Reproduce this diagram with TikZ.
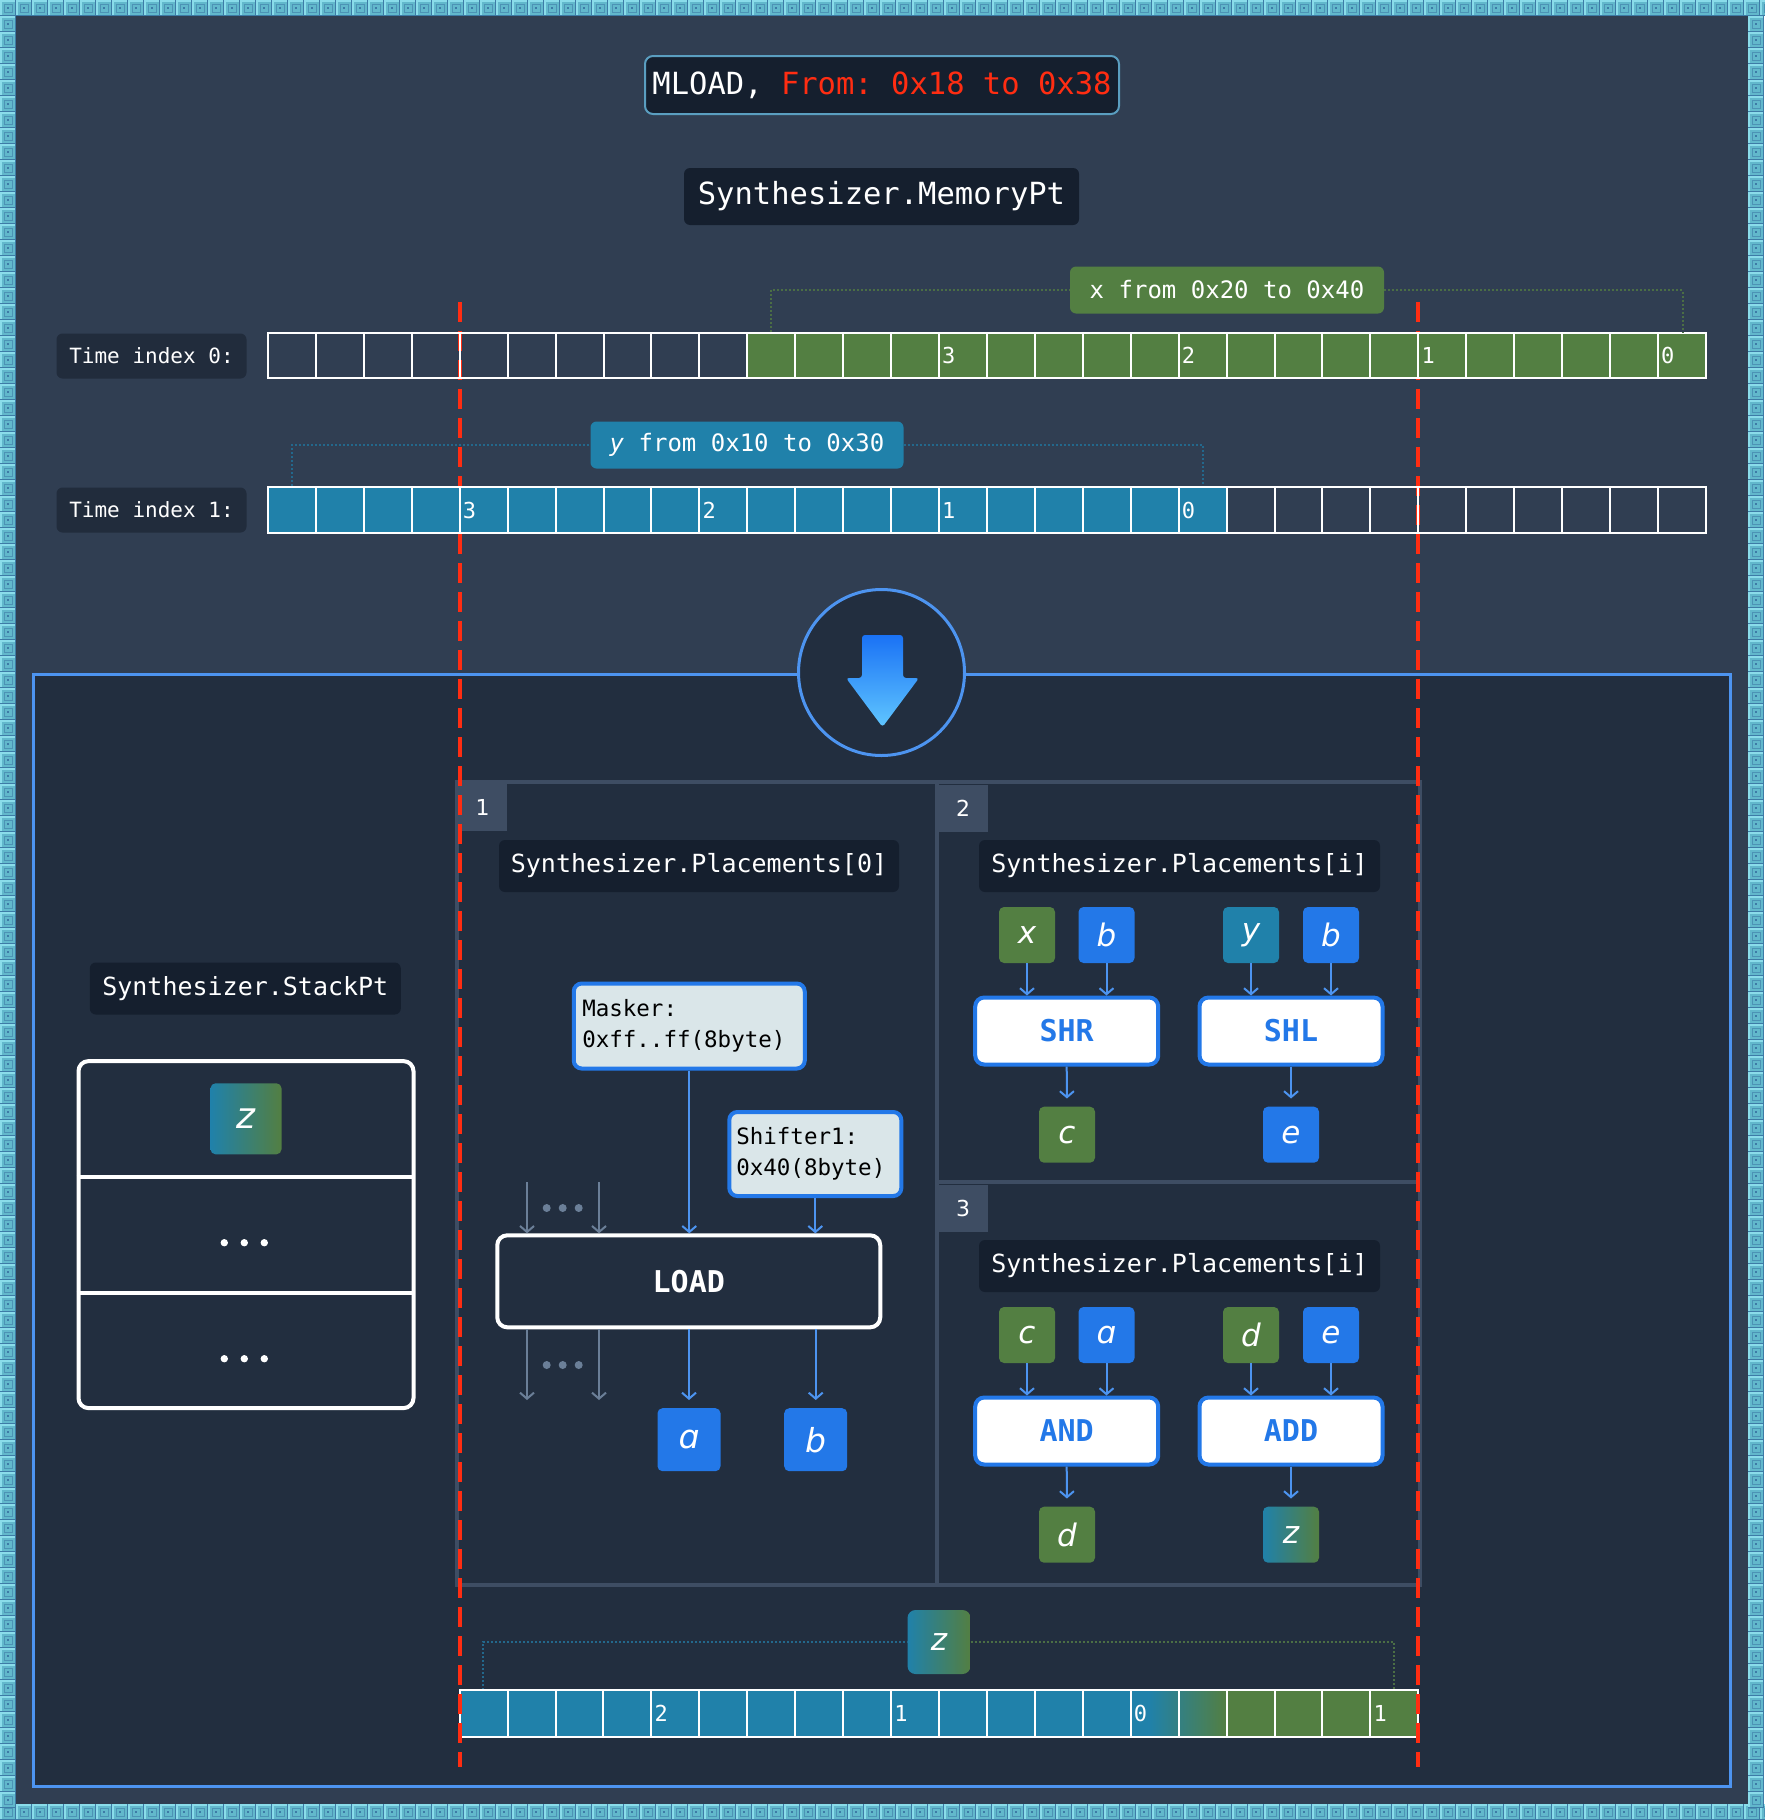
\documentclass[tikz,border=0pt]{standalone}
\usepackage{fontspec}
\usetikzlibrary{arrows.meta,calc}
\setmainfont{DejaVu Sans}
\setmonofont{DejaVu Sans Mono}
\newfontfamily\glyphfont{DejaVu Sans}

\definecolor{pagebg}{HTML}{303E52}
\definecolor{panelbg}{HTML}{222E3F}
\definecolor{labelbg}{HTML}{151F2E}
\definecolor{timebg}{HTML}{212C3C}
\definecolor{frameline}{HTML}{3E4D63}
\definecolor{edgeblue}{HTML}{4D94F0}
\definecolor{opblue}{HTML}{2378E8}
\definecolor{leafgreen}{HTML}{537F42}
\definecolor{seateal}{HTML}{2081AA}
\definecolor{alertred}{HTML}{FF2D12}
\definecolor{paperbox}{HTML}{DAE6E9}
\definecolor{mutedarrow}{HTML}{6B7F98}
\definecolor{titleedge}{HTML}{5A9EC0}
\definecolor{tilebase}{HTML}{62B8CC}
\definecolor{tileshadow}{HTML}{3D7BA6}
\definecolor{tilelight}{HTML}{8ADCEA}
\definecolor{dotgreen}{HTML}{4B6E45}
\definecolor{dotteal}{HTML}{23688C}
\definecolor{arrowtop}{HTML}{1A72F5}
\definecolor{arrowbottom}{HTML}{60C6FF}

\newcommand\setfs[1]{\fontsize{#1}{#1}\selectfont}
\newcommand\bordertile[2]{%
  \fill[tilebase] (#1,#2) rectangle ++(16,16);
  \fill[tilelight] (#1,#2) rectangle ++(16,1.5);
  \fill[tilelight] (#1,#2) rectangle ++(1.5,16);
  \fill[tileshadow] (#1,#2+14.5) rectangle ++(16,1.5);
  \fill[tileshadow] (#1+14.5,#2) rectangle ++(1.5,16);
  \draw[tileshadow!60!tilebase, line width=0.8] (#1+4,#2+4) rectangle ++(8,8);
  \fill[tileshadow] (#1+6.8,#2+6.8) rectangle ++(2.4,2.4);
}

\tikzset{
  darktag/.style={fill=labelbg, rounded corners=6pt, text=white, inner sep=0pt,
    font=\ttfamily\setfs{25}},
  timetag/.style={fill=timebg, rounded corners=6pt, text=white, inner sep=0pt,
    minimum width=190pt, minimum height=45pt, font=\ttfamily\setfs{21}},
  cellline/.style={draw=white, line width=2pt},
  cellnum/.style={anchor=west, text=white, inner sep=0pt, font=\ttfamily\setfs{22}},
  spantag/.style={rounded corners=6pt, text=white, inner sep=0pt,
    minimum height=47pt, font=\ttfamily\setfs{24}},
  varbox/.style={rounded corners=5pt, inner sep=0pt, minimum width=56pt,
    minimum height=56pt, text=white, font=\glyphfont\itshape\setfs{31}},
  opbox/.style={draw=opblue, line width=4pt, fill=white, rounded corners=9pt,
    minimum width=183pt, minimum height=67pt, inner sep=0pt, text=opblue,
    font=\ttfamily\bfseries\setfs{30}},
  notebox/.style={draw=opblue, line width=4pt, fill=paperbox, rounded corners=8pt,
    inner sep=0pt, align=left, text=black, font=\ttfamily\fontsize{22.5}{31}\selectfont},
  flow/.style={draw=edgeblue, line width=2pt, -{Straight Barb[length=6pt,width=14pt]}},
  mutedflow/.style={draw=mutedarrow, line width=2pt, -{Straight Barb[length=6pt,width=14pt]}},
  greendots/.style={draw=dotgreen, line width=2pt, dash pattern=on 2pt off 2pt},
  tealdots/.style={draw=dotteal, line width=2pt, dash pattern=on 2pt off 2pt},
  cutline/.style={draw=alertred, line width=4pt, dash pattern=on 20pt off 9pt},
  tabbox/.style={fill=frameline, inner sep=0pt, minimum width=49pt, minimum height=47pt,
    text=white, font=\setfs{22}},
  blend/.style={left color=seateal, right color=leafgreen},
}

\begin{document}
\begin{tikzpicture}[x=1pt,y=-1pt]
\useasboundingbox (0,0) rectangle (1764,1820);

% tiled frame and page background
\fill[tilebase] (0,0) rectangle (1764,1820);
\foreach \i in {0,...,110} {\bordertile{\i*16}{0}\bordertile{\i*16}{1804}}
\foreach \j in {1,...,112} {\bordertile{0}{\j*16}\bordertile{1748}{\j*16}}
\fill[pagebg] (16,16) rectangle (1748,1804);

% header
\node[fill=labelbg, draw=titleedge, line width=2pt, rounded corners=8pt, inner sep=0pt,
  minimum width=474pt, minimum height=58pt, font=\ttfamily\setfs{30.5}]
  (title) at (882,85) {\textcolor{white}{MLOAD,} \textcolor{alertred}{From: 0x18 to 0x38}};
\node[darktag, font=\ttfamily\setfs{30.5}, minimum width=395pt, minimum height=57pt]
  (memory) at (881.5,196.5) {Synthesizer.MemoryPt};

% time index labels
\node[timetag] (time0) at (151.5,356) {Time index 0:};
\node[timetag] (time1) at (151.5,510) {Time index 1:};

% lower section
\draw[edgeblue, line width=3pt, fill=panelbg] (33.6,674) rectangle (1730,1786);
\node[circle, draw=edgeblue, line width=3pt, fill=panelbg, minimum size=166pt, inner sep=0pt]
  (funnel) at (881.5,672.5) {};
\shade[top color=arrowtop, bottom color=arrowbottom, rounded corners=3pt]
  (862,635) -- (903,635) -- (903,678) -- (919,678) -- (882.5,727) -- (846,678) -- (862,678) -- cycle;

% placement panels
\draw[frameline, line width=4pt] (457,782) rectangle (1420,1585);
\draw[frameline, line width=4pt] (937,782) -- (937,1585);
\draw[frameline, line width=4pt] (937,1182) -- (1420,1182);
\node[tabbox] (tab1) at (482.5,807.5) {1};
\node[tabbox] (tab2) at (963,808) {2};
\node[tabbox] (tab3) at (963,1208) {3};

% panel 1
\node[darktag, minimum width=400pt, minimum height=52pt] (place0) at (699,866) {Synthesizer.Placements[0]};
\node[notebox, text width=214pt, minimum width=231pt, minimum height=85pt]
  (masker) at (689.25,1026) {Masker:\\0xff..ff(8byte)};
\node[notebox, text width=158pt, minimum width=172pt, minimum height=84pt]
  (shifter) at (815.3,1154) {Shifter1:\\0x40(8byte)};
\node[draw=white, line width=4pt, fill=panelbg, rounded corners=10pt, inner sep=0pt,
  minimum width=383pt, minimum height=92pt, text=white, font=\ttfamily\bfseries\setfs{30}]
  (load) at (688.75,1281.3) {LOAD};
\node[varbox, fill=opblue, minimum width=63pt, minimum height=63pt, font=\glyphfont\itshape\setfs{33}]
  (outa) at (689,1439.7) {ɑ};
\node[varbox, fill=opblue, minimum width=63pt, minimum height=63pt, font=\glyphfont\itshape\setfs{33}]
  (outb) at (815.7,1439.7) {b};

\draw[flow] (masker.south) -- (masker.south |- load.north);
\draw[flow] (shifter.south) -- (shifter.south |- load.north);
\draw[flow, shorten >=8pt] (load.south -| outa) -- (outa.north);
\draw[flow, shorten >=8pt] (load.south -| outb) -- (outb.north);

\coordinate (feedA) at (527,1182);
\coordinate (feedB) at (599,1182);
\coordinate (spillA) at (527,1400);
\coordinate (spillB) at (599,1400);
\draw[mutedflow] (feedA) -- (feedA |- load.north);
\draw[mutedflow] (feedB) -- (feedB |- load.north);
\draw[mutedflow] (spillA |- load.south) -- (spillA);
\draw[mutedflow] (spillB |- load.south) -- (spillB);
\foreach \dx in {546.7,562.7,578.7} {
  \fill[mutedarrow] (\dx,1208) circle (4);
  \fill[mutedarrow] (\dx,1365) circle (4);
}

% panel 2
\node[darktag, minimum width=401pt, minimum height=52pt] (place1) at (1179.5,866) {Synthesizer.Placements[i]};
\node[varbox, fill=leafgreen] (inx) at (1027,935) {x};
\node[varbox, fill=opblue] (inb1) at (1106.5,935) {b};
\node[varbox, fill=seateal] (iny) at (1251,935) {y};
\node[varbox, fill=opblue] (inb2) at (1331,935) {b};
\node[opbox] (shr) at (1066.7,1031) {SHR};
\node[opbox] (shl) at (1291,1031) {SHL};
\node[varbox, fill=leafgreen] (outc) at (1067,1134.7) {c};
\node[varbox, fill=opblue] (oute) at (1291,1134.7) {e};
\draw[flow] (inx.south) -- (inx.south |- shr.north);
\draw[flow] (inb1.south) -- (inb1.south |- shr.north);
\draw[flow] (iny.south) -- (iny.south |- shl.north);
\draw[flow] (inb2.south) -- (inb2.south |- shl.north);
\draw[flow, shorten >=8pt] (shr.south) -- (outc.north);
\draw[flow, shorten >=8pt] (shl.south) -- (oute.north);

% panel 3
\node[darktag, minimum width=401pt, minimum height=52pt] (place2) at (1179.5,1266) {Synthesizer.Placements[i]};
\node[varbox, fill=leafgreen] (inc) at (1027,1335) {c};
\node[varbox, fill=opblue] (ina) at (1106.5,1335) {ɑ};
\node[varbox, fill=leafgreen] (ind) at (1251,1335) {d};
\node[varbox, fill=opblue] (ine) at (1331,1335) {e};
\node[opbox] (andop) at (1066.7,1431) {AND};
\node[opbox] (addop) at (1291,1431) {ADD};
\node[varbox, fill=leafgreen] (outd) at (1067,1534.7) {d};
\node[varbox, blend] (outz) at (1291,1534.7) {z};
\draw[flow] (inc.south) -- (inc.south |- andop.north);
\draw[flow] (ina.south) -- (ina.south |- andop.north);
\draw[flow] (ind.south) -- (ind.south |- addop.north);
\draw[flow] (ine.south) -- (ine.south |- addop.north);
\draw[flow, shorten >=8pt] (andop.south) -- (outd.north);
\draw[flow, shorten >=8pt] (addop.south) -- (outz.north);

% stack
\node[darktag, minimum width=311pt, minimum height=52pt] (stackname) at (245.3,988.5) {Synthesizer.StackPt};
\node[draw=white, line width=4pt, rounded corners=10pt, inner sep=0pt,
  minimum width=335pt, minimum height=347pt] (stack) at (246,1234.6) {};
\draw[white, line width=4pt] (76.7,1176.7) -- (415.3,1176.7);
\draw[white, line width=4pt] (76.7,1292.7) -- (415.3,1292.7);
\node[varbox, blend, minimum width=71pt, minimum height=71pt, font=\glyphfont\itshape\setfs{36}]
  (stackz) at (246,1118.8) {z};
\foreach \dx in {224.3,244.3,264.3} {
  \fill[white] (\dx,1242.7) circle (3.7);
  \fill[white] (\dx,1358.7) circle (3.7);
}

% result word
\coordinate (zfoot0) at (483,1690);
\coordinate (zfoot1) at (1393.6,1690);
\node[varbox, blend, minimum width=63pt, minimum height=64pt, rounded corners=8pt] (wordz) at (939,1642) {z};
\draw[tealdots] (zfoot0) |- (wordz.west);
\draw[greendots] (wordz.east) -| (zfoot1);
\foreach \i in {0,...,19} {
  \pgfmathsetmacro\cx{459.7+\i*47.93}
  \ifnum\i<15 \fill[seateal] (\cx,1690.3) rectangle ++(47.93,47);\fi
  \ifnum\i>15 \fill[leafgreen] (\cx,1690.3) rectangle ++(47.93,47);\fi
}
\shade[left color=seateal, right color=leafgreen] (459.7+14*47.93+18,1690.3) rectangle (459.7+16*47.93,1737.3);
\foreach \i in {0,...,19} {
  \pgfmathsetmacro\cx{459.7+\i*47.93}
  \draw[cellline] (\cx,1690.3) rectangle ++(47.93,47);
}
\node[cellnum] (w2) at (459.7+4*47.93+3,1713.8) {2};
\node[cellnum] (w1) at (459.7+9*47.93+3,1713.8) {1};
\node[cellnum] (w0) at (459.7+14*47.93+3,1713.8) {0};
\node[cellnum] (w1b) at (459.7+19*47.93+3,1713.8) {1};

% cut lines of the loaded range
\coordinate (cutA0) at (459.7,302);
\coordinate (cutA1) at (459.7,1767);
\coordinate (cutB0) at (1418.3,302);
\coordinate (cutB1) at (1418.3,1767);
\draw[cutline] (cutA0) -- (cutA1);
\draw[cutline] (cutB0) -- (cutB1);

% memory rows
\foreach \i in {0,...,29} {
  \pgfmathsetmacro\cx{268+\i*47.93}
  \ifnum\i>9 \fill[leafgreen] (\cx,333) rectangle ++(47.93,45);\fi
  \ifnum\i<20 \fill[seateal] (\cx,487) rectangle ++(47.93,46);\fi
  \draw[cellline] (\cx,333) rectangle ++(47.93,45);
  \draw[cellline] (\cx,487) rectangle ++(47.93,46);
}
\node[cellnum] (r0n3) at (268+14*47.93+3,355.5) {3};
\node[cellnum] (r0n2) at (268+19*47.93+3,355.5) {2};
\node[cellnum] (r0n1) at (268+24*47.93+3,355.5) {1};
\node[cellnum] (r0n0) at (268+29*47.93+3,355.5) {0};
\node[cellnum] (r1n3) at (268+4*47.93+3,510) {3};
\node[cellnum] (r1n2) at (268+9*47.93+3,510) {2};
\node[cellnum] (r1n1) at (268+14*47.93+3,510) {1};
\node[cellnum] (r1n0) at (268+19*47.93+3,510) {0};

% operand spans
\coordinate (xfoot0) at (771.3,332);
\coordinate (xfoot1) at (1682.5,332);
\coordinate (yfoot0) at (292,486);
\coordinate (yfoot1) at (1202.6,486);
\node[spantag, fill=leafgreen, minimum width=314pt] (xspan) at (1227,290) {x from 0x20 to 0x40};
\node[spantag, fill=seateal, minimum width=313pt] (yspan) at (747,445) {\textit{y} from 0x10 to 0x30};
\draw[greendots] (xfoot0) |- (xspan.west);
\draw[greendots] (xspan.east) -| (xfoot1);
\draw[tealdots] (yfoot0) |- (yspan.west);
\draw[tealdots] (yspan.east) -| (yfoot1);
\end{tikzpicture}
\end{document}
